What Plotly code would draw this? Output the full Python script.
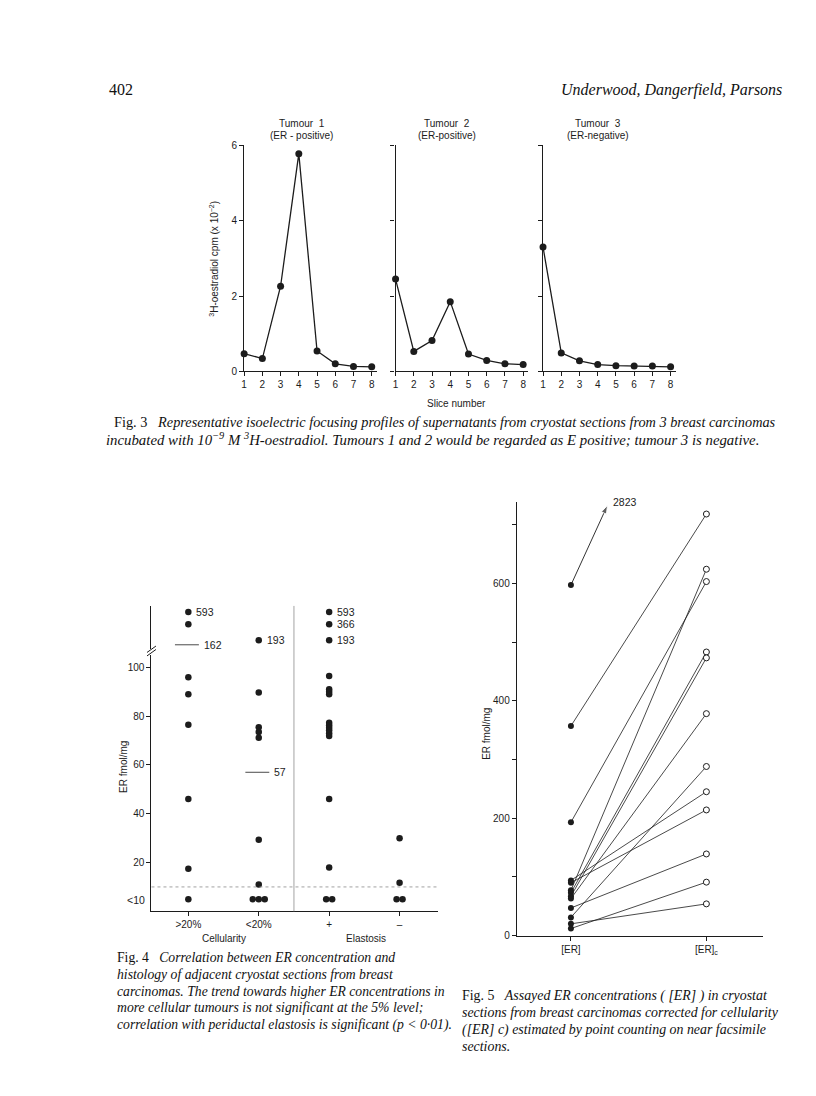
import math
import plotly.graph_objects as go

# the page body has an 8px margin, so the figure is drawn 8px in from the window corner
OFF = 8
W, H = 816 - OFF, 1096 - OFF


def fx(p):
    return (p - OFF) / W


def fy(p):
    return 1 - (p - OFF) / H


SANS = "Liberation Sans, Arial, sans-serif"
SERIF = "Liberation Serif, Times New Roman, serif"
INK = "#1c1c1c"

# ---------------- Fig. 3 data ----------------
slices = [1, 2, 3, 4, 5, 6, 7, 8]
tumour1 = [0.47, 0.34, 2.26, 5.78, 0.54, 0.20, 0.13, 0.12]
tumour2 = [2.45, 0.53, 0.82, 1.85, 0.46, 0.29, 0.20, 0.18]
tumour3 = [3.30, 0.49, 0.28, 0.18, 0.15, 0.14, 0.14, 0.12]
tumour_names = ["Tumour  1", "Tumour  2", "Tumour  3"]
tumour_status = ["(ER - positive)", "(ER-positive)", "(ER-negative)"]
fig3_yticks = [0, 2, 4, 6]

# ---------------- Fig. 4 data ----------------
fig4_categories = [">20%", "<20%", "+", "\u2013"]
fig4_groups = ["Cellularity", "Elastosis"]
fig4_low = [
    [96, 89, 76.5, 46, 17.5, 5],
    [89.7, 75.5, 73.5, 71.2, 29.3, 11, 5, 5, 5],
    [96.5, 91, 90, 89, 77.3, 76.3, 75.3, 74.2, 73, 71.9, 46, 18, 5, 5],
    [30, 11.7, 5, 5],
]
fig4_high = [[593, 366], [193], [593, 366, 193], []]
fig4_high_labels = [["593", ""], ["193"], ["593", "366", "193"], []]
fig4_means = [162, 57, None, None]
fig4_yticks = [20, 40, 60, 80, 100]
fig4_threshold = 10
fig4_below_label = "<10"

# ---------------- Fig. 5 data ----------------
fig5_categories = ["[ER]", "[ER]<sub>c</sub>"]
er_assayed = [597, 357, 193, 94, 90, 77, 73, 67, 63, 47, 31, 20, 12]
er_corrected = [2823, 718, 603, 245, 214, 624, 483, 473, 378, 139, 288, 54, 91]
fig5_yticks = [0, 200, 400, 600]
fig5_ymax = 739

fig = go.Figure()

axis_common = dict(showline=True, linecolor=INK, linewidth=1.2, showgrid=False,
                   zeroline=False, ticks="outside", ticklen=4, tickwidth=1,
                   tickcolor=INK, tickfont=dict(family=SANS, size=10, color=INK))
layout_axes = {}

# ---------------- Fig. 3 ----------------
p3_x = [(242, 375), (394, 527), (542, 675)]
p3_ytop, p3_ybot = 141.7, 370
series3 = [tumour1, tumour2, tumour3]
for i, vals in enumerate(series3):
    n = "" if i == 0 else str(i + 1)
    fig.add_trace(go.Scatter(x=slices, y=vals, mode="lines+markers",
                             line=dict(color=INK, width=1.3),
                             marker=dict(size=7, color=INK),
                             xaxis="x" + n, yaxis="y" + n, cliponaxis=False,
                             showlegend=False, hoverinfo="skip"))
    layout_axes["xaxis" + n] = dict(axis_common, domain=[fx(p3_x[i][0]), fx(p3_x[i][1])],
                                    range=[1, 8.27], tickvals=slices, anchor="y" + n)
    layout_axes["yaxis" + n] = dict(axis_common, domain=[fy(p3_ybot), fy(p3_ytop)],
                                    range=[0, 6], tickvals=fig3_yticks, anchor="x" + n,
                                    showticklabels=(i == 0))

# ---------------- Fig. 4 ----------------
f4_x0, f4_x1 = 149, 437
f4_unit = 70.67
f4_xrange = [1 - (186 - f4_x0) / f4_unit, 1 + (f4_x1 - 186) / f4_unit]
step = 6 / f4_unit


def spread(center, values):
    counts, seen, xs = {}, {}, []
    for v in values:
        counts[v] = counts.get(v, 0) + 1
    for v in values:
        k = seen.get(v, 0)
        seen[v] = k + 1
        xs.append(center + (k - (counts[v] - 1) / 2) * step)
    return xs


annotations = []
for gi, vals in enumerate(fig4_low):
    c = gi + 1
    fig.add_trace(go.Scatter(x=spread(c, vals), y=vals, mode="markers",
                             marker=dict(size=6.5, color=INK), xaxis="x4", yaxis="y4",
                             cliponaxis=False, showlegend=False, hoverinfo="skip"))
    hv = fig4_high[gi]
    if hv:
        fig.add_trace(go.Scatter(x=[c] * len(hv), y=hv, mode="markers",
                                 marker=dict(size=6.5, color=INK), xaxis="x5", yaxis="y5",
                                 cliponaxis=False, showlegend=False, hoverinfo="skip"))
        for v, lab in zip(hv, fig4_high_labels[gi]):
            if lab:
                annotations.append(dict(x=c, y=math.log10(v), xref="x5", yref="y5",
                                        text=lab, showarrow=False, xanchor="left",
                                        xshift=6, font=dict(family=SANS, size=10.5, color=INK)))
    m = fig4_means[gi]
    if m is not None:
        upper = m > 100
        fig.add_trace(go.Scatter(x=[c - 0.19, c + 0.15], y=[m, m], mode="lines",
                                 line=dict(color=INK, width=0.8),
                                 xaxis="x5" if upper else "x4", yaxis="y5" if upper else "y4",
                                 showlegend=False, hoverinfo="skip"))
        annotations.append(dict(x=c + 0.15, y=math.log10(m) if upper else m,
                                xref="x5" if upper else "x4", yref="y5" if upper else "y4",
                                text=str(m), showarrow=False, xanchor="left", xshift=3,
                                font=dict(family=SANS, size=10.5, color=INK)))

layout_axes["xaxis4"] = dict(axis_common, domain=[fx(f4_x0), fx(f4_x1)], range=f4_xrange,
                             tickvals=[1, 2, 3, 4], ticktext=fig4_categories, anchor="y4")
layout_axes["yaxis4"] = dict(axis_common, domain=[fy(915.5), fy(657)], range=[0, 104.9],
                             tickvals=fig4_yticks, anchor="x4")
layout_axes["xaxis5"] = dict(domain=[fx(f4_x0), fx(f4_x1)], range=f4_xrange, visible=False,
                             anchor="y5")
layout_axes["yaxis5"] = dict(type="log", domain=[fy(651), fy(607)], range=[2.129, 2.875],
                             showline=True, linecolor=INK, linewidth=1.2, showgrid=False,
                             zeroline=False, showticklabels=False, ticks="", anchor="x5")

# ---------------- Fig. 5 ----------------
f5_x0, f5_x1 = 515.7, 763.3
f5_unit = 136
f5_xrange = [1 - (570 - f5_x0) / f5_unit, 2 + (f5_x1 - 706) / f5_unit]
lx, ly = [], []
open_x, open_y = [], []
for a, cval in zip(er_assayed, er_corrected):
    if cval <= fig5_ymax:
        lx += [1, 2, None]
        ly += [a, cval, None]
        open_x.append(2)
        open_y.append(cval)
    else:
        # off-scale value: short arrow from the assayed point, labelled with the value
        tip_x, tip_y = 1.27, fig5_ymax - 6
        fig.add_trace(go.Scatter(x=[1, tip_x], y=[a, tip_y], mode="lines+markers",
                                 line=dict(color=INK, width=0.9),
                                 marker=dict(symbol="arrow", size=[1, 9], angleref="previous",
                                             color=INK),
                                 xaxis="x6", yaxis="y6", cliponaxis=False,
                                 showlegend=False, hoverinfo="skip"))
        annotations.append(dict(x=tip_x, y=tip_y, xref="x6", yref="y6", text=str(cval),
                                showarrow=False, xanchor="left", xshift=4, yshift=3,
                                font=dict(family=SANS, size=10.5, color=INK)))
fig.add_trace(go.Scatter(x=lx, y=ly, mode="lines", line=dict(color=INK, width=0.8),
                         xaxis="x6", yaxis="y6", showlegend=False, hoverinfo="skip"))
fig.add_trace(go.Scatter(x=[1] * len(er_assayed), y=er_assayed, mode="markers",
                         marker=dict(size=6, color=INK), xaxis="x6", yaxis="y6",
                         cliponaxis=False, showlegend=False, hoverinfo="skip"))
fig.add_trace(go.Scatter(x=open_x, y=open_y, mode="markers",
                         marker=dict(size=6, color="white", symbol="circle",
                                     line=dict(color=INK, width=1)),
                         xaxis="x6", yaxis="y6", cliponaxis=False, showlegend=False,
                         hoverinfo="skip"))
layout_axes["xaxis6"] = dict(axis_common, domain=[fx(f5_x0), fx(f5_x1)], range=f5_xrange,
                             tickvals=[1, 2], ticktext=fig5_categories, anchor="y6")
layout_axes["yaxis6"] = dict(axis_common, domain=[fy(940), fy(501.7)], range=[0, fig5_ymax],
                             tickvals=fig5_yticks, anchor="x6",
                             minor=dict(dtick=100, ticks="outside", ticklen=4,
                                        tickcolor=INK, showgrid=False))


# ---------------- text ----------------
def txt(x, y, text, size=10, family=SANS, xanchor="center", angle=0, color=INK):
    annotations.append(dict(x=fx(x), y=fy(y), xref="paper", yref="paper", text=text,
                            showarrow=False, xanchor=xanchor, yanchor="middle",
                            textangle=angle, font=dict(family=family, size=size, color=color)))


centers3 = [300, 446, 597]
for i in range(3):
    txt(centers3[i], 120, tumour_names[i])
    txt(centers3[i], 132, tumour_status[i])
txt(212, 256, "<sup>3</sup>H-oestradiol cpm (x 10<sup>\u22122</sup>)", angle=-90)
txt(455, 402, "Slice number")

txt(121, 770, "ER fmol/mg", angle=-90)
txt(145, 904, fig4_below_label, size=10.5, xanchor="right")
txt(222, 943, fig4_groups[0])
txt(364, 943, fig4_groups[1])

txt(485, 736, "ER fmol/mg", angle=-90)

# page header
txt(104, 85, "402", size=16, family=SERIF, xanchor="left", color="#111")
txt(784, 86, "<i>Underwood, Dangerfield, Parsons</i>", size=16, family=SERIF,
    xanchor="right", color="#111")

NB = "\u00a0\u00a0\u00a0"
cap3 = [
    (109, 421, 14.3, "Fig. 3" + NB + "<i>Representative isoelectric focusing profiles of supernatants from cryostat sections from 3 breast carcinomas</i>"),
    (101, 438, 14.8, "<i>incubated with 10<sup>\u22129</sup> M <sup>3</sup>H-oestradiol. Tumours 1 and 2 would be regarded as E positive; tumour 3 is negative.</i>"),
]
cap4 = [
    "Fig. 4" + NB + "<i>Correlation between ER concentration and</i>",
    "<i>histology of adjacent cryostat sections from breast</i>",
    "<i>carcinomas. The trend towards higher ER concentrations in</i>",
    "<i>more cellular tumours is not significant at the 5% level;</i>",
    "<i>correlation with periductal elastosis is significant (p < 0\u00b701).</i>",
]
cap5 = [
    "Fig. 5" + NB + "<i>Assayed ER concentrations ( [ER] ) in cryostat</i>",
    "<i>sections from breast carcinomas corrected for cellularity</i>",
    "<i>([ER] c) estimated by point counting on near facsimile</i>",
    "<i>sections.</i>",
]
for x, y, s, t in cap3:
    txt(x, y, t, size=s, family=SERIF, xanchor="left", color="#111")
for k, t in enumerate(cap4):
    txt(112, 962 + 17 * k, t, size=13.7, family=SERIF, xanchor="left", color="#111")
for k, t in enumerate(cap5):
    txt(459, 1001 + 17 * k, t, size=13.9, family=SERIF, xanchor="left", color="#111")

# ---------------- shapes ----------------
shapes = [
    dict(type="line", xref="x4 domain", yref="y4", x0=0, x1=1, y0=fig4_threshold,
         y1=fig4_threshold, line=dict(color="#8a8a8a", width=0.8, dash="dot")),
    dict(type="line", xref="x4", yref="paper", x0=2.5, x1=2.5, y0=fy(915.5), y1=fy(607),
         line=dict(color="#999999", width=0.9)),
    dict(type="line", xref="paper", yref="paper", x0=fx(144.5), y0=fy(654), x1=fx(153.5),
         y1=fy(647.5), line=dict(color=INK, width=1)),
    dict(type="line", xref="paper", yref="paper", x0=fx(144.5), y0=fy(657.5), x1=fx(153.5),
         y1=fy(651), line=dict(color=INK, width=1)),
]

fig.update_layout(width=W, height=H, margin=dict(l=0, r=0, t=0, b=0),
                  paper_bgcolor="white", plot_bgcolor="rgba(0,0,0,0)",
                  showlegend=False, annotations=annotations, shapes=shapes,
                  **layout_axes)
fig.write_html("out.html")
